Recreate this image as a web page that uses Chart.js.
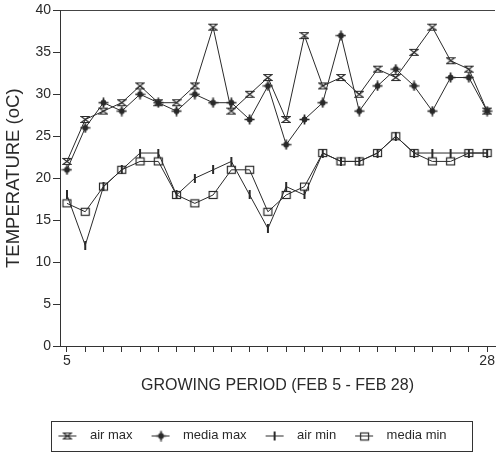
<!DOCTYPE html>
<html>
<head>
<meta charset="utf-8">
<script src="https://cdn.jsdelivr.net/npm/chart.js@4/dist/chart.umd.min.js"></script>
<style>
  html, body { margin: 0; padding: 0; background: #fff; }
  #wrap { width: 500px; height: 453px; }
</style>
</head>
<body>
<div id="wrap"><canvas id="c" width="500" height="453"></canvas></div>
<script>
// ---- data ----
const days = [5, 6, 7, 8, 9, 10, 11, 12, 13, 14, 15, 16, 17, 18, 19, 20, 21, 22, 23, 24, 25, 26, 27, 28];
const airMax   = [22, 27, 28, 29, 31, 29, 29, 31, 38, 28, 30, 32, 27, 37, 31, 32, 30, 33, 32, 35, 38, 34, 33, 28];
const mediaMax = [21, 26, 29, 28, 30, 29, 28, 30, 29, 29, 27, 31, 24, 27, 29, 37, 28, 31, 33, 31, 28, 32, 32, 28];
const airMin   = [18, 12, 19, 21, 23, 23, 18, 20, 21, 22, 18, 14, 19, 18, 23, 22, 22, 23, 25, 23, 23, 23, 23, 23];
const mediaMin = [17, 16, 19, 21, 22, 22, 18, 17, 18, 21, 21, 16, 18, 19, 23, 22, 22, 23, 25, 23, 22, 22, 23, 23];
const seriesNames = ['air max', 'media max', 'air min', 'media min'];
const xLabelDays = [5, 28];
const yTicks = [0, 5, 10, 15, 20, 25, 30, 35, 40];
const xTitle = 'GROWING PERIOD (FEB 5 - FEB 28)';
const yTitle = 'TEMPERATURE (oC)';

const INK = '#2a2a2a';
const FONT = "'Liberation Sans', Arial, Helvetica, sans-serif";

// ---- marker images ----
function mk(w, h, draw) {
  const c = document.createElement('canvas');
  c.width = w; c.height = h;
  const g = c.getContext('2d');
  g.strokeStyle = INK; g.fillStyle = INK;
  draw(g, w, h);
  return c;
}
const mHour = mk(10, 9, g => {
  g.lineWidth = 1.1;
  g.beginPath();
  g.moveTo(1, 1.5); g.lineTo(9, 1.5); g.lineTo(1, 7.5); g.lineTo(9, 7.5); g.closePath();
  g.stroke();
});
const mStar = mk(11, 11, g => {
  g.beginPath(); g.arc(5.5, 5.5, 2.9, 0, Math.PI * 2); g.fill();
  g.lineWidth = 1.7;
  g.beginPath();
  g.moveTo(5.5, 0.5); g.lineTo(5.5, 10.5);
  g.moveTo(0.5, 5.5); g.lineTo(10.5, 5.5);
  g.stroke();
});
const mTick = mk(4, 9, g => { g.fillRect(1, 0, 2, 9); });
const mSquare = mk(11, 10, g => {
  g.lineWidth = 1.2;
  g.strokeRect(1.5, 1.5, 8, 7);
});
const markers = [mHour, mStar, mTick, mSquare];

function legendIcon(m) {
  return mk(32, 12, g => {
    g.lineWidth = 1;
    g.beginPath(); g.moveTo(7, 6.5); g.lineTo(25, 6.5); g.stroke();
    g.drawImage(m, Math.round(16 - m.width / 2), Math.round(6.5 - m.height / 2));
  });
}
const icons = markers.map(legendIcon);

const seriesValues = [airMax, mediaMax, airMin, mediaMin];
const datasets = seriesValues.map((vals, i) => ({
  label: seriesNames[i],
  data: days.map((d, k) => ({ x: d, y: vals[k] })),
  borderColor: INK,
  backgroundColor: INK,
  borderWidth: 1,
  pointStyle: markers[i],
  pointRadius: 4,
  tension: 0,
  fill: false
}));

const legendBox = {
  id: 'legendBox',
  afterLayout(chart) {
    const l = chart.legend;
    if (l) { l.top -= 1; l.bottom -= 1; }
  },
  afterDraw(chart) {
    const l = chart.legend;
    const hb = l && l.legendHitBoxes;
    if (!hb || !hb.length) return;
    const first = hb[0], last = hb[hb.length - 1];
    const cy = first.top + first.height / 2;
    const ctx = chart.ctx;
    ctx.save();
    ctx.strokeStyle = '#333';
    ctx.lineWidth = 1;
    const x0 = Math.round(first.left) + 0.5;
    const x1 = Math.round(last.left + last.width + 25) + 0.5;
    ctx.strokeRect(x0, Math.round(cy - 15) + 0.5, x1 - x0, 30);
    ctx.restore();
  }
};

new Chart(document.getElementById('c'), {
  type: 'line',
  data: { datasets },
  plugins: [legendBox],
  options: {
    responsive: false,
    animation: false,
    devicePixelRatio: 1,
    layout: { padding: { top: 9, right: 2, left: 0, bottom: 0 } },
    plugins: {
      tooltip: { enabled: false },
      legend: {
        position: 'bottom',
        labels: {
          usePointStyle: true,
          pointStyleWidth: 32,
          padding: 12,
          color: INK,
          font: { family: FONT, size: 13 },
          generateLabels: chart => chart.data.datasets.map((ds, i) => ({
            text: ds.label,
            pointStyle: icons[i],
            fillStyle: INK,
            strokeStyle: INK,
            lineWidth: 1,
            fontColor: INK,
            hidden: false,
            datasetIndex: i
          }))
        }
      }
    },
    scales: {
      x: {
        type: 'linear',
        min: 4.62,
        max: 28.43,
        afterFit: s => { s.height = 72; },
        afterBuildTicks: s => { s.ticks = days.map(v => ({ value: v })); },
        border: { display: true, color: '#333', width: 1 },
        grid: { drawOnChartArea: false, drawTicks: true, tickLength: 6, color: '#333', tickColor: '#333' },
        ticks: {
          autoSkip: false,
          maxRotation: 0,
          padding: 1,
          color: INK,
          font: { family: FONT, size: 14 },
          callback: v => (xLabelDays.includes(v) ? String(v) : '')
        },
        title: {
          display: true,
          text: xTitle,
          color: INK,
          font: { family: FONT, size: 16 },
          padding: { top: 0, bottom: 23 }
        }
      },
      y: {
        min: 0,
        max: 40,
        afterFit: s => { s.width = 60; },
        afterBuildTicks: s => { s.ticks = yTicks.map(v => ({ value: v })); },
        border: { display: true, color: '#333', width: 1 },
        grid: {
          drawOnChartArea: true,
          tickLength: 7,
          color: c => (c.tick && c.tick.value === 40 ? '#444' : 'rgba(0,0,0,0)'),
          tickColor: '#333'
        },
        ticks: {
          padding: 2,
          color: INK,
          font: { family: FONT, size: 14 }
        },
        title: {
          display: true,
          text: yTitle,
          color: INK,
          font: { family: FONT, size: 18.5 },
          padding: { top: 3, bottom: 0 }
        }
      }
    }
  }
});
</script>
</body>
</html>
